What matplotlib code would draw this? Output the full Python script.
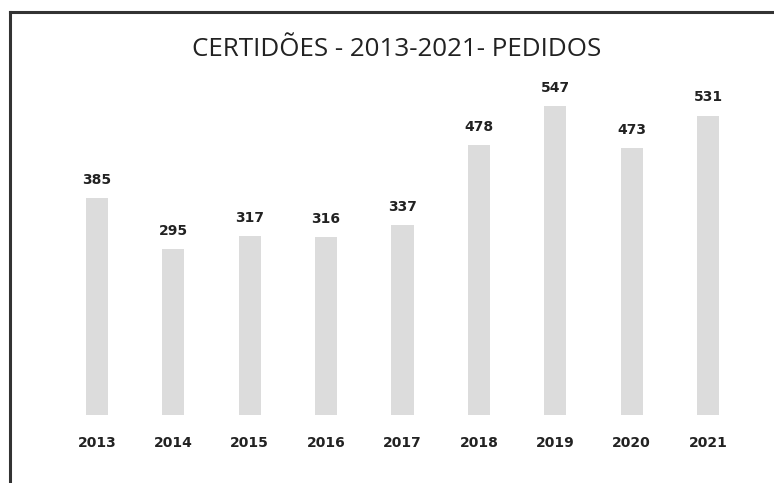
import matplotlib
matplotlib.use("Agg")
import matplotlib.pyplot as plt
from matplotlib.lines import Line2D

years = ["2013", "2014", "2015", "2016", "2017", "2018", "2019", "2020", "2021"]
pedidos = [385, 295, 317, 316, 337, 478, 547, 473, 531]
title = "CERTIDÕES - 2013-2021- PEDIDOS"

W, H = 774, 483
fig = plt.figure(figsize=(W / 100, H / 100), dpi=100)
fig.patch.set_facecolor("white")

ax = fig.add_axes([58.8 / W, 68 / H, 687.4 / W, 338.4 / H])
x = list(range(len(years)))
ax.bar(x, pedidos, width=0.29, color="#dcdcdc", edgecolor="none")
ax.set_xlim(-0.5, len(years) - 0.5)
ax.set_ylim(0, 600)
ax.set_xticks(x)
ax.set_xticklabels(years, fontsize=10, fontweight="bold", color="#222222",
                   family="DejaVu Sans")
ax.tick_params(axis="x", length=0, pad=15)
ax.set_yticks([])
for s in ax.spines.values():
    s.set_visible(False)

for xi, v in zip(x, pedidos):
    ax.annotate(str(v), (xi, v), xytext=(0, 8), textcoords="offset points",
                ha="center", va="bottom", fontsize=10, fontweight="bold",
                color="#222222", family="DejaVu Sans")

fig.text(397 / W, 1 - 49 / H, title, ha="center", va="center",
         fontsize=18.7, family="Open Sans", color="#222222")

# border of the scanned chart box
fig.add_artist(Line2D([10 / W, 1.0], [1 - 12 / H, 1 - 12 / H],
                      transform=fig.transFigure, color="#333333", lw=2.2))
fig.add_artist(Line2D([10 / W, 10 / W], [0.0, 1 - 12 / H],
                      transform=fig.transFigure, color="#333333", lw=2.2))

fig.savefig("out.png", dpi=100, facecolor="white")
